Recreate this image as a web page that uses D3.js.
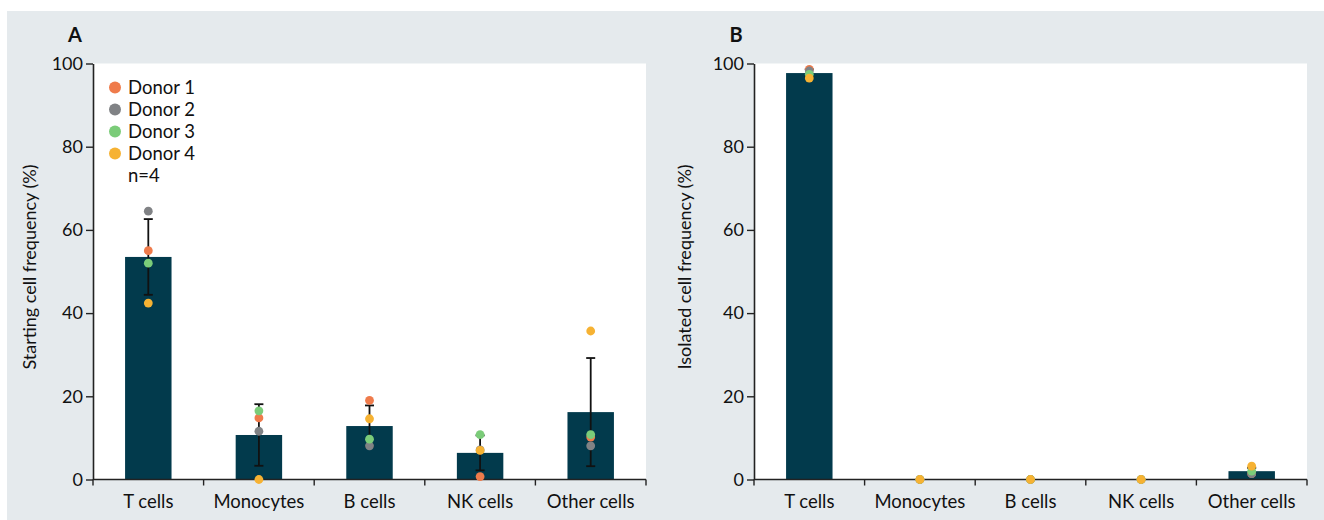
<!DOCTYPE html>
<html>
<head>
<meta charset="utf-8">
<script src="https://cdn.jsdelivr.net/npm/d3@7"></script>
<style>
  html, body { margin: 0; padding: 0; background: #ffffff; }
  svg { display: block; font-family: Lato, "Open Sans", sans-serif; }
</style>
</head>
<body>
<svg id="chart" width="1324" height="520"></svg>
<script>
// Cell populations on the x axis
const categories = ["T cells", "Monocytes", "B cells", "NK cells", "Other cells"];
const donors = ["Donor 1", "Donor 2", "Donor 3", "Donor 4"];
const donorColors = ["#ef7b4b", "#808285", "#7bcc79", "#f6b233"];
const yTicks = [0, 20, 40, 60, 80, 100];

// Panel A: starting population (%)
const startMean = [53.5, 10.7, 12.85, 6.4, 16.2];
const startSD = [9.1, 7.4, 4.95, 4.2, 13.0];
const startDonor1 = [55.0, 14.8, 19.0, 0.7, 10.2];
const startDonor2 = [64.5, 11.6, 8.1, 7.1, 8.1];
const startDonor3 = [52.0, 16.5, 9.7, 10.8, 10.8];
const startDonor4 = [42.4, 0.0, 14.6, 7.0, 35.7];

// Panel B: isolated population (%)
const isoMean = [97.7, 0, 0, 0, 2.0];
const isoSD = [0.9, 0, 0, 0, 0.8];
const isoDonor1 = [98.6, 0, 0, 0, 1.4];
const isoDonor2 = [98.2, 0, 0, 0, 1.4];
const isoDonor3 = [97.4, 0, 0, 0, 2.0];
const isoDonor4 = [96.5, 0, 0, 0, 3.2];

const panels = [
  { letter: "A", title: "Starting cell frequency (%)", left: 93, mean: startMean, sd: startSD,
    points: [startDonor1, startDonor2, startDonor3, startDonor4], legend: true, titleX: 36 },
  { letter: "B", title: "Isolated cell frequency (%)", left: 754, mean: isoMean, sd: isoSD,
    points: [isoDonor1, isoDonor2, isoDonor3, isoDonor4], legend: false, titleX: 691 }
];

const svg = d3.select("#chart");
const plotTop = 63.5, plotBottom = 479.5, plotW = 553;
const barColor = "#023a4c";
const axisColor = "#222";

// light panel background
svg.append("rect").attr("x", 7).attr("y", 11).attr("width", 1324 - 7).attr("height", 520 - 11)
  .attr("fill", "#e5eaed");

const y = d3.scaleLinear().domain([0, 100]).range([plotBottom, plotTop]);

panels.forEach(p => {
  const x = d3.scaleBand().domain(categories).range([p.left, p.left + plotW]).paddingInner(0.58).paddingOuter(0.29);
  const g = svg.append("g");

  g.append("rect").attr("x", p.left).attr("y", plotTop).attr("width", plotW).attr("height", plotBottom - plotTop)
    .attr("fill", "#ffffff");

  // bars
  g.selectAll("rect.bar").data(categories).join("rect").attr("class", "bar")
    .attr("x", d => x(d)).attr("width", x.bandwidth())
    .attr("y", (d, i) => y(p.mean[i])).attr("height", (d, i) => y(0) - y(p.mean[i]))
    .attr("fill", barColor);

  // error bars (mean ± SD)
  const eb = g.append("g").attr("stroke", "#111").attr("stroke-width", 1.8);
  categories.forEach((c, i) => {
    if (p.sd[i] <= 0) return;
    const cx = x(c) + x.bandwidth() / 2;
    const hi = y(p.mean[i] + p.sd[i]), lo = y(Math.max(0, p.mean[i] - p.sd[i]));
    eb.append("line").attr("x1", cx).attr("x2", cx).attr("y1", hi).attr("y2", lo);
    eb.append("line").attr("x1", cx - 4.5).attr("x2", cx + 4.5).attr("y1", hi).attr("y2", hi);
    eb.append("line").attr("x1", cx - 4.5).attr("x2", cx + 4.5).attr("y1", lo).attr("y2", lo);
  });

  // y axis
  const ya = g.append("g").attr("transform", `translate(${p.left},0)`)
    .call(d3.axisLeft(y).tickValues(yTicks).tickSize(7).tickPadding(3).tickSizeOuter(0));
  ya.select(".domain").attr("stroke", axisColor).attr("stroke-width", 1.6);
  ya.selectAll(".tick line").attr("stroke", axisColor).attr("stroke-width", 1.4);
  ya.selectAll(".tick text").attr("font-size", 18).attr("fill", "#111").attr("font-family", "Lato");

  // x axis with ticks at category boundaries
  const xa = g.append("g").attr("transform", `translate(0,${plotBottom})`);
  xa.append("line").attr("x1", p.left).attr("x2", p.left + plotW).attr("stroke", axisColor).attr("stroke-width", 1.6);
  const bounds = d3.range(categories.length + 1).map(i => p.left + i * plotW / categories.length);
  xa.selectAll("line.tk").data(bounds).join("line").attr("class", "tk")
    .attr("x1", d => d).attr("x2", d => d).attr("y1", 0).attr("y2", 6)
    .attr("stroke", axisColor).attr("stroke-width", 1.4);
  xa.selectAll("text").data(categories).join("text")
    .attr("x", d => x(d) + x.bandwidth() / 2).attr("y", 28)
    .attr("text-anchor", "middle").attr("font-size", 18.5).attr("fill", "#111")
    .text(d => d);

  // donor points, drawn above the axes
  p.points.forEach((vals, di) => {
    g.append("g").selectAll("circle").data(categories).join("circle")
      .attr("cx", d => x(d) + x.bandwidth() / 2)
      .attr("cy", (d, i) => y(vals[i]))
      .attr("r", 4.4)
      .attr("fill", donorColors[di]);
  });

  // axis title
  g.append("text").attr("transform", `translate(${p.titleX},267) rotate(-90)`)
    .attr("text-anchor", "middle").attr("font-size", 18).attr("fill", "#111").text(p.title);

  // panel letter
  g.append("text").attr("x", p.left - 18).attr("y", 42).attr("text-anchor", "middle")
    .attr("font-size", 20).attr("font-weight", "bold").attr("fill", "#111").text(p.letter);

  if (p.legend) {
    const lg = g.append("g");
    donors.forEach((d, i) => {
      const ly = 87.5 + i * 22;
      lg.append("circle").attr("cx", 115).attr("cy", ly).attr("r", 6).attr("fill", donorColors[i]);
      lg.append("text").attr("x", 128).attr("y", ly).attr("dy", "0.35em")
        .attr("font-size", 18.5).attr("fill", "#111").text(d);
    });
    lg.append("text").attr("x", 128).attr("y", 87.5 + 4 * 22).attr("dy", "0.35em")
      .attr("font-size", 18.5).attr("fill", "#111").text("n=4");
  }
});
</script>
</body>
</html>
